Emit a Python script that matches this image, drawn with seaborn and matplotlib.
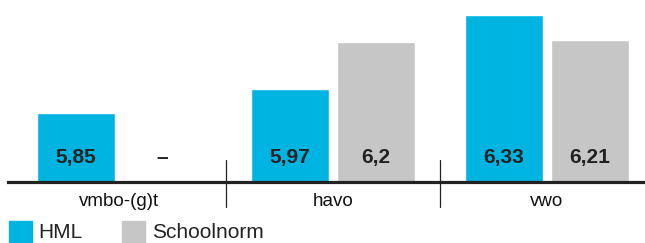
import seaborn as sns
import pandas as pd
import numpy as np
import matplotlib.pyplot as plt
from matplotlib.patches import Rectangle

# data
niveaus = ["vmbo-(g)t", "havo", "vwo"]
hml = [5.85, 5.97, 6.33]
schoolnorm = [np.nan, 6.2, 6.21]
hml_labels = ["5,85", "5,97", "6,33"]
school_labels = ["–", "6,2", "6,21"]

blauw = "#00B4E1"
grijs = "#C6C6C6"
donker = "#222222"

df = pd.DataFrame({
    "niveau": niveaus * 2,
    "cijfer": hml + schoolnorm,
    "reeks": ["HML"] * 3 + ["Schoolnorm"] * 3,
})

sns.set_style("white")
plt.rcParams["font.family"] = ["Liberation Sans", "DejaVu Sans"]

fig = plt.figure(figsize=(6.45, 2.43), dpi=100)
W, H = 645, 243
ax = fig.add_axes([8 / W, 61 / H, (645 - 8) / W, 182 / H])

sns.barplot(data=df, x="niveau", y="cijfer", hue="reeks", order=niveaus,
            palette=[blauw, grijs], width=0.804, gap=0.093, ax=ax,
            legend=False, saturation=1)

ax.set_xlim(-0.519, 2.458)
ax.set_ylim(5.515, 5.515 + 182 / 205)
for s in ["top", "left", "right"]:
    ax.spines[s].set_visible(False)
ax.spines["bottom"].set_color(donker)
ax.spines["bottom"].set_linewidth(2.3)
ax.set_yticks([])
ax.set_xlabel("")
ax.set_ylabel("")
ax.tick_params(axis="x", length=0, pad=8, labelsize=13.5, colors="#111111")

# value labels inside the bars
ylab = 5.515 + 25 / 205
for i in range(3):
    ax.text(i - 0.201, ylab, hml_labels[i], ha="center", va="center",
            fontsize=15, fontweight="bold", color=donker)
    ax.text(i + 0.201, ylab, school_labels[i], ha="center", va="center",
            fontsize=15, fontweight="bold", color=donker)

# dividers between groups
for xv in [0.5, 1.5]:
    ax.axvline(xv, ymin=-0.137, ymax=0.121, color=donker, lw=0.9, clip_on=False)

# legend
fig.patches.append(Rectangle((9 / W, 0), 23 / W, 22 / H, transform=fig.transFigure,
                             color=blauw))
fig.text(38 / W, 11 / H, "HML", fontsize=15, va="center", color=donker)
fig.patches.append(Rectangle((122 / W, 0), 23 / W, 22 / H, transform=fig.transFigure,
                             color=grijs))
fig.text(152 / W, 11 / H, "Schoolnorm", fontsize=15, va="center", color=donker)

fig.savefig("out.png", dpi=100)
